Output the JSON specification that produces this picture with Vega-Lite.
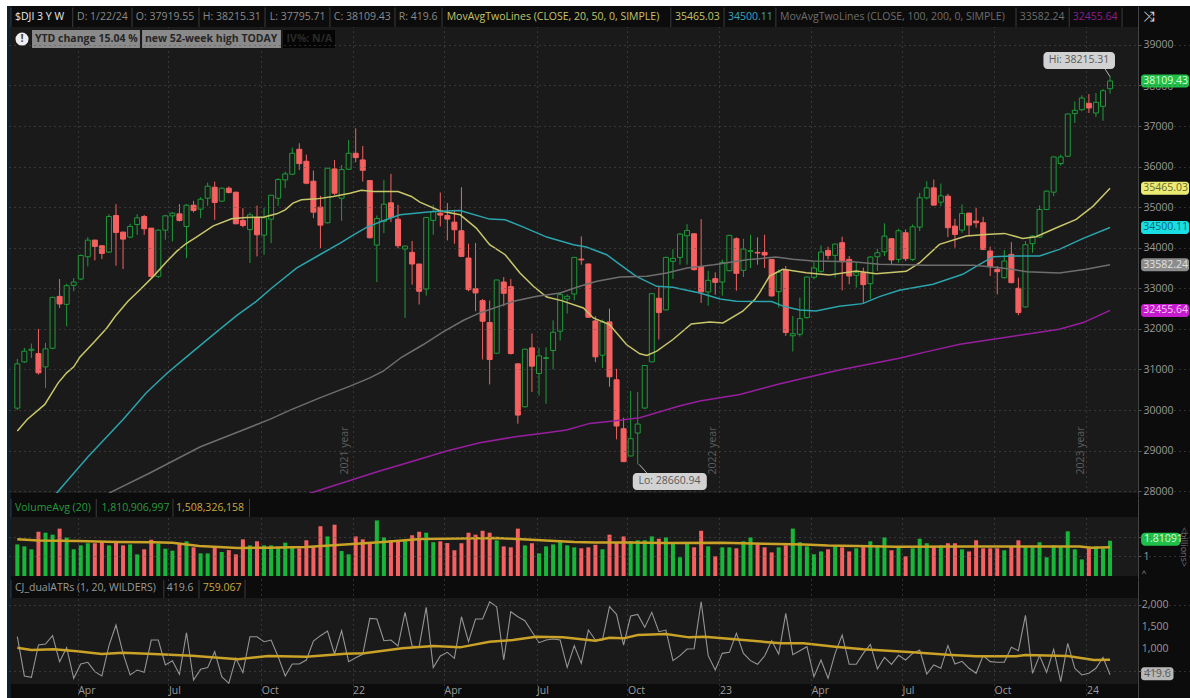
{"$schema":"https://vega.github.io/schema/vega-lite/v6.json","background":"#ffffff","padding":{"left":7,"top":6,"right":0,"bottom":0},"spacing":0,
"config":{"font":"Open Sans","view":{"stroke":null},"concat":{"spacing":0},"text":{"font":"Open Sans"}},
"datasets":{
"bars":[
{"w":0,"o":30046,"h":31260,"l":29997,"c":31137,"d":"u","v":1.62,"a":1278},
{"w":1,"o":31186,"h":31531,"l":31160,"c":31449,"d":"u","v":1.52,"a":393},
{"w":2,"o":31470,"h":31637,"l":31285,"c":31500,"d":"u","v":1.37,"a":362},
{"w":3,"o":31390,"h":31998,"l":30875,"c":30916,"d":"d","v":2.27,"a":1090},
{"w":4,"o":31063,"h":31654,"l":30546,"c":31506,"d":"u","v":2.22,"a":1112},
{"w":5,"o":31522,"h":32790,"l":31500,"c":32777,"d":"u","v":2.12,"a":1300},
{"w":6,"o":32800,"h":33228,"l":32515,"c":32613,"d":"d","v":2.43,"a":715},
{"w":7,"o":32605,"h":33113,"l":32064,"c":33064,"d":"u","v":1.97,"a":1030},
{"w":8,"o":33072,"h":33253,"l":32925,"c":33154,"d":"u","v":1.37,"a":340},
{"w":9,"o":33228,"h":33830,"l":33200,"c":33810,"d":"u","v":1.57,"a":662},
{"w":10,"o":33777,"h":34261,"l":33540,"c":34187,"d":"u","v":1.68,"a":700},
{"w":11,"o":34187,"h":34200,"l":33687,"c":34032,"d":"d","v":1.68,"a":490},
{"w":12,"o":34048,"h":34060,"l":33720,"c":33859,"d":"d","v":1.74,"a":392},
{"w":13,"o":33892,"h":34827,"l":33868,"c":34770,"d":"u","v":1.57,"a":1075},
{"w":14,"o":34794,"h":35073,"l":33556,"c":34376,"d":"d","v":1.79,"a":1540},
{"w":15,"o":34384,"h":34400,"l":33474,"c":34212,"d":"d","v":1.57,"a":902},
{"w":16,"o":34261,"h":34590,"l":34236,"c":34524,"d":"u","v":1.62,"a":415},
{"w":17,"o":34573,"h":34827,"l":34318,"c":34737,"d":"u","v":1.11,"a":527},
{"w":18,"o":34770,"h":34810,"l":34318,"c":34466,"d":"d","v":1.37,"a":475},
{"w":19,"o":34483,"h":34483,"l":33260,"c":33294,"d":"d","v":1.86,"a":1202},
{"w":20,"o":33294,"h":34450,"l":33250,"c":34433,"d":"u","v":1.66,"a":1202},
{"w":21,"o":34433,"h":34810,"l":34196,"c":34786,"d":"u","v":1.40,"a":640},
{"w":22,"o":34786,"h":34876,"l":34155,"c":34852,"d":"u","v":1.30,"a":737},
{"w":23,"o":34835,"h":35073,"l":34646,"c":34671,"d":"d","v":1.66,"a":430},
{"w":24,"o":34524,"h":35073,"l":33745,"c":35048,"d":"u","v":1.78,"a":1367},
{"w":25,"o":35048,"h":35155,"l":34868,"c":34917,"d":"d","v":1.47,"a":302},
{"w":26,"o":34950,"h":35245,"l":34729,"c":35196,"d":"u","v":1.16,"a":542},
{"w":27,"o":35220,"h":35606,"l":35032,"c":35516,"d":"u","v":1.16,"a":580},
{"w":28,"o":35491,"h":35630,"l":34688,"c":35114,"d":"d","v":1.50,"a":940},
{"w":29,"o":35147,"h":35480,"l":35130,"c":35467,"d":"u","v":1.23,"a":377},
{"w":30,"o":35467,"h":35510,"l":35340,"c":35360,"d":"d","v":1.33,"a":227},
{"w":31,"o":35368,"h":35380,"l":34580,"c":34590,"d":"d","v":1.11,"a":790},
{"w":32,"o":34671,"h":34975,"l":34500,"c":34548,"d":"d","v":1.88,"a":467},
{"w":33,"o":34450,"h":34868,"l":33622,"c":34811,"d":"u","v":1.57,"a":1277},
{"w":34,"o":34737,"h":35040,"l":33786,"c":34319,"d":"d","v":1.78,"a":1277},
{"w":35,"o":34310,"h":34975,"l":33827,"c":34737,"d":"u","v":1.57,"a":1165},
{"w":36,"o":34704,"h":35300,"l":34114,"c":35294,"d":"u","v":1.57,"a":1202},
{"w":37,"o":35220,"h":35713,"l":35032,"c":35680,"d":"u","v":1.50,"a":827},
{"w":38,"o":35672,"h":35877,"l":35467,"c":35819,"d":"u","v":1.71,"a":392},
{"w":39,"o":35811,"h":36467,"l":35795,"c":36328,"d":"u","v":1.50,"a":662},
{"w":40,"o":36426,"h":36574,"l":35918,"c":36073,"d":"d","v":1.42,"a":662},
{"w":41,"o":36131,"h":36295,"l":35565,"c":35590,"d":"d","v":1.83,"a":752},
{"w":42,"o":35639,"h":35901,"l":34729,"c":34876,"d":"d","v":1.50,"a":1180},
{"w":43,"o":35000,"h":35278,"l":33990,"c":34556,"d":"d","v":2.55,"a":1300},
{"w":44,"o":34614,"h":35970,"l":34600,"c":35959,"d":"u","v":2.03,"a":1405},
{"w":45,"o":35942,"h":36164,"l":35303,"c":35344,"d":"d","v":2.63,"a":887},
{"w":46,"o":35220,"h":36041,"l":34663,"c":35926,"d":"u","v":1.28,"a":1412},
{"w":47,"o":35934,"h":36656,"l":35918,"c":36328,"d":"u","v":1.11,"a":715},
{"w":48,"o":36328,"h":36943,"l":36106,"c":36221,"d":"d","v":2.03,"a":805},
{"w":49,"o":36164,"h":36508,"l":35630,"c":35909,"d":"d","v":1.88,"a":880},
{"w":50,"o":35655,"h":35670,"l":34230,"c":34245,"d":"d","v":1.68,"a":1690},
{"w":51,"o":34064,"h":34794,"l":33154,"c":34720,"d":"u","v":2.85,"a":1675},
{"w":52,"o":34648,"h":35673,"l":34360,"c":35074,"d":"u","v":1.98,"a":1187},
{"w":53,"o":35107,"h":35820,"l":34631,"c":34746,"d":"d","v":1.83,"a":1202},
{"w":54,"o":34705,"h":35058,"l":33984,"c":34049,"d":"d","v":1.83,"a":1067},
{"w":55,"o":33967,"h":34050,"l":32270,"c":34041,"d":"u","v":1.83,"a":1825},
{"w":56,"o":33885,"h":34164,"l":33090,"c":33598,"d":"d","v":2.09,"a":1067},
{"w":57,"o":33598,"h":33600,"l":32600,"c":32926,"d":"d","v":2.27,"a":1052},
{"w":58,"o":32983,"h":34760,"l":32820,"c":34746,"d":"u","v":2.22,"a":1937},
{"w":59,"o":34672,"h":35058,"l":34320,"c":34886,"d":"u","v":1.73,"a":580},
{"w":60,"o":34853,"h":35361,"l":34525,"c":34804,"d":"d","v":1.78,"a":842},
{"w":61,"o":34795,"h":35100,"l":34180,"c":34705,"d":"d","v":1.69,"a":925},
{"w":62,"o":34631,"h":34935,"l":34100,"c":34443,"d":"d","v":1.32,"a":790},
{"w":63,"o":34418,"h":35492,"l":33770,"c":33787,"d":"d","v":1.68,"a":1727},
{"w":64,"o":33746,"h":34100,"l":32926,"c":32967,"d":"d","v":2.22,"a":1165},
{"w":65,"o":32991,"h":34115,"l":32434,"c":32885,"d":"d","v":2.12,"a":1675},
{"w":66,"o":32696,"h":32737,"l":31245,"c":32188,"d":"d","v":2.32,"a":1675},
{"w":67,"o":32155,"h":32700,"l":30630,"c":31245,"d":"d","v":2.22,"a":2065},
{"w":68,"o":31400,"h":33210,"l":31390,"c":33205,"d":"u","v":1.83,"a":1952},
{"w":69,"o":33155,"h":33278,"l":32557,"c":32877,"d":"d","v":1.52,"a":752},
{"w":70,"o":33040,"h":33230,"l":31367,"c":31392,"d":"d","v":1.47,"a":1840},
{"w":71,"o":31138,"h":31150,"l":29662,"c":29875,"d":"d","v":2.43,"a":1727},
{"w":72,"o":30080,"h":31510,"l":30060,"c":31499,"d":"u","v":1.57,"a":1637},
{"w":73,"o":31532,"h":31884,"l":30441,"c":31080,"d":"d","v":1.68,"a":1390},
{"w":74,"o":30900,"h":31532,"l":30359,"c":31335,"d":"u","v":1.16,"a":1142},
{"w":75,"o":31270,"h":31548,"l":30154,"c":31290,"d":"u","v":1.52,"a":1202},
{"w":76,"o":31466,"h":32212,"l":31000,"c":31917,"d":"u","v":1.62,"a":1225},
{"w":77,"o":31942,"h":32900,"l":31712,"c":32844,"d":"u","v":1.83,"a":1202},
{"w":78,"o":32737,"h":32844,"l":32376,"c":32803,"d":"u","v":1.57,"a":587},
{"w":79,"o":32860,"h":33770,"l":32704,"c":33762,"d":"u","v":1.47,"a":1075},
{"w":80,"o":33720,"h":34280,"l":33580,"c":33700,"d":"d","v":1.42,"a":677},
{"w":81,"o":33598,"h":33610,"l":32270,"c":32286,"d":"d","v":1.47,"a":1427},
{"w":82,"o":32196,"h":32310,"l":31180,"c":31310,"d":"d","v":1.60,"a":1202},
{"w":83,"o":31351,"h":32230,"l":31040,"c":32171,"d":"u","v":1.37,"a":1202},
{"w":84,"o":32171,"h":32500,"l":30572,"c":30818,"d":"d","v":2.12,"a":1952},
{"w":85,"o":30745,"h":31015,"l":29277,"c":29605,"d":"d","v":1.74,"a":1780},
{"w":86,"o":29539,"h":29810,"l":28720,"c":28727,"d":"d","v":2.03,"a":1090},
{"w":87,"o":28867,"h":30466,"l":28860,"c":29293,"d":"u","v":1.78,"a":1742},
{"w":88,"o":29433,"h":30441,"l":28661,"c":29654,"d":"u","v":1.83,"a":1780},
{"w":89,"o":30048,"h":31100,"l":30030,"c":31097,"d":"u","v":1.83,"a":1487},
{"w":90,"o":31187,"h":32880,"l":31180,"c":32868,"d":"u","v":2.03,"a":1825},
{"w":91,"o":32754,"h":33032,"l":31737,"c":32401,"d":"d","v":1.91,"a":1390},
{"w":92,"o":32467,"h":33775,"l":32460,"c":33762,"d":"u","v":1.98,"a":1427},
{"w":93,"o":33664,"h":33967,"l":33229,"c":33738,"d":"u","v":1.73,"a":737},
{"w":94,"o":33762,"h":34360,"l":33582,"c":34336,"d":"u","v":0.96,"a":850},
{"w":95,"o":34295,"h":34582,"l":33582,"c":34426,"d":"u","v":1.73,"a":1000},
{"w":96,"o":34344,"h":34350,"l":33440,"c":33459,"d":"d","v":1.47,"a":1007},
{"w":97,"o":33533,"h":34705,"l":32640,"c":32910,"d":"d","v":2.32,"a":2065},
{"w":98,"o":32910,"h":33434,"l":32573,"c":33196,"d":"u","v":1.52,"a":850},
{"w":99,"o":33237,"h":33393,"l":32844,"c":33147,"d":"d","v":1.01,"a":527},
{"w":100,"o":33155,"h":33705,"l":32819,"c":33639,"d":"u","v":1.47,"a":902},
{"w":101,"o":33434,"h":34320,"l":33418,"c":34303,"d":"u","v":1.47,"a":925},
{"w":102,"o":34221,"h":34254,"l":32942,"c":33369,"d":"d","v":1.42,"a":1352},
{"w":103,"o":33442,"h":34221,"l":33278,"c":33967,"d":"u","v":1.78,"a":902},
{"w":104,"o":33910,"h":34320,"l":33500,"c":33926,"d":"u","v":1.98,"a":737},
{"w":105,"o":33885,"h":34254,"l":33582,"c":33870,"d":"d","v":1.62,"a":655},
{"w":106,"o":33885,"h":34320,"l":33500,"c":33820,"d":"d","v":1.47,"a":842},
{"w":107,"o":33713,"h":33720,"l":32800,"c":32811,"d":"d","v":1.21,"a":1187},
{"w":108,"o":32918,"h":33467,"l":32524,"c":33400,"d":"u","v":1.47,"a":887},
{"w":109,"o":33450,"h":33550,"l":31827,"c":31909,"d":"d","v":1.57,"a":1802},
{"w":110,"o":31830,"h":32319,"l":31442,"c":31880,"d":"u","v":2.43,"a":872},
{"w":111,"o":31868,"h":32770,"l":31810,"c":32253,"d":"u","v":1.73,"a":962},
{"w":112,"o":32278,"h":33290,"l":32253,"c":33278,"d":"u","v":1.52,"a":1052},
{"w":113,"o":33270,"h":33647,"l":33220,"c":33500,"d":"u","v":1.11,"a":377},
{"w":114,"o":33418,"h":34057,"l":33385,"c":33893,"d":"u","v":1.26,"a":752},
{"w":115,"o":33934,"h":34025,"l":33713,"c":33811,"d":"d","v":1.37,"a":340},
{"w":116,"o":33811,"h":34100,"l":33262,"c":34090,"d":"u","v":1.57,"a":902},
{"w":117,"o":34123,"h":34270,"l":32950,"c":33656,"d":"d","v":1.47,"a":1315},
{"w":118,"o":33713,"h":33795,"l":33100,"c":33303,"d":"d","v":1.26,"a":655},
{"w":119,"o":33320,"h":33631,"l":33016,"c":33385,"d":"u","v":1.42,"a":655},
{"w":120,"o":33385,"h":33508,"l":32630,"c":33090,"d":"d","v":1.52,"a":902},
{"w":121,"o":33115,"h":33795,"l":32730,"c":33770,"d":"u","v":1.78,"a":1105},
{"w":122,"o":33778,"h":33975,"l":33426,"c":33877,"d":"u","v":1.57,"a":550},
{"w":123,"o":33900,"h":34600,"l":33795,"c":34287,"d":"u","v":1.98,"a":812},
{"w":124,"o":34221,"h":34240,"l":33600,"c":33697,"d":"d","v":1.32,"a":655},
{"w":125,"o":33713,"h":34467,"l":33631,"c":34418,"d":"u","v":1.47,"a":857},
{"w":126,"o":34369,"h":34451,"l":33672,"c":33729,"d":"d","v":1.01,"a":752},
{"w":127,"o":33713,"h":34574,"l":33672,"c":34516,"d":"u","v":1.42,"a":902},
{"w":128,"o":34508,"h":35353,"l":34410,"c":35230,"d":"u","v":1.91,"a":977},
{"w":129,"o":35230,"h":35640,"l":35189,"c":35476,"d":"u","v":1.68,"a":437},
{"w":130,"o":35476,"h":35681,"l":35040,"c":35050,"d":"d","v":1.52,"a":640},
{"w":131,"o":35123,"h":35583,"l":35025,"c":35279,"d":"u","v":1.57,"a":565},
{"w":132,"o":35271,"h":35328,"l":34262,"c":34492,"d":"d","v":1.68,"a":1075},
{"w":133,"o":34533,"h":34713,"l":34000,"c":34328,"d":"d","v":1.68,"a":662},
{"w":134,"o":34435,"h":35066,"l":34369,"c":34845,"d":"u","v":1.37,"a":722},
{"w":135,"o":34853,"h":34861,"l":34287,"c":34558,"d":"d","v":1.26,"a":565},
{"w":136,"o":34656,"h":34984,"l":34492,"c":34615,"d":"d","v":1.83,"a":452},
{"w":137,"o":34615,"h":34763,"l":33943,"c":33959,"d":"d","v":1.42,"a":850},
{"w":138,"o":33918,"h":34025,"l":33303,"c":33533,"d":"d","v":1.42,"a":715},
{"w":139,"o":33467,"h":33549,"l":32852,"c":33410,"d":"d","v":1.42,"a":700},
{"w":140,"o":33262,"h":33943,"l":33237,"c":33672,"d":"u","v":1.32,"a":700},
{"w":141,"o":33836,"h":34139,"l":33123,"c":33139,"d":"d","v":1.52,"a":1037},
{"w":142,"o":33000,"h":33262,"l":32335,"c":32401,"d":"d","v":1.83,"a":962},
{"w":143,"o":32540,"h":34164,"l":32524,"c":34074,"d":"u","v":1.52,"a":1757},
{"w":144,"o":34098,"h":34303,"l":33877,"c":34287,"d":"u","v":1.47,"a":452},
{"w":145,"o":34262,"h":35041,"l":34246,"c":34943,"d":"u","v":1.73,"a":850},
{"w":146,"o":34943,"h":35410,"l":34926,"c":35394,"d":"u","v":0.96,"a":475},
{"w":147,"o":35369,"h":36245,"l":35271,"c":36238,"d":"u","v":1.57,"a":992},
{"w":148,"o":36075,"h":36296,"l":36025,"c":36238,"d":"u","v":1.52,"a":265},
{"w":149,"o":36255,"h":37310,"l":36240,"c":37296,"d":"u","v":2.29,"a":1127},
{"w":150,"o":37305,"h":37608,"l":37075,"c":37387,"d":"u","v":1.37,"a":565},
{"w":151,"o":37403,"h":37756,"l":37362,"c":37690,"d":"u","v":0.85,"a":415},
{"w":152,"o":37559,"h":37788,"l":37321,"c":37444,"d":"d","v":1.42,"a":452},
{"w":153,"o":37321,"h":37813,"l":37223,"c":37583,"d":"u","v":1.52,"a":565},
{"w":154,"o":37485,"h":37911,"l":37130,"c":37870,"d":"u","v":1.42,"a":812},
{"w":155,"o":37919.55,"h":38215.31,"l":37795.71,"c":38109.43,"d":"u","v":1.81,"a":419.6}
],
"ma":[
{"w":0,"p":29480,"s":"20"},{"w":1.4,"p":29768,"s":"20"},{"w":3.9,"p":30137,"s":"20"},{"w":5.8,"p":30670,"s":"20"},{"w":7,"p":30916,"s":"20"},{"w":8,"p":31063,"s":"20"},{"w":8.9,"p":31309,"s":"20"},{"w":11,"p":31695,"s":"20"},{"w":12.7,"p":32023,"s":"20"},{"w":13.9,"p":32310,"s":"20"},{"w":15.7,"p":32679,"s":"20"},{"w":17.4,"p":32966,"s":"20"},{"w":19.3,"p":33294,"s":"20"},{"w":21.2,"p":33663,"s":"20"},{"w":22.6,"p":33909,"s":"20"},{"w":23.9,"p":34097,"s":"20"},{"w":25.4,"p":34261,"s":"20"},{"w":27.8,"p":34540,"s":"20"},{"w":30.4,"p":34712,"s":"20"},{"w":32.5,"p":34745,"s":"20"},{"w":34.9,"p":34753,"s":"20"},{"w":36.8,"p":34835,"s":"20"},{"w":38,"p":34933,"s":"20"},{"w":39.1,"p":35098,"s":"20"},{"w":40.3,"p":35180,"s":"20"},{"w":42.5,"p":35204,"s":"20"},{"w":44.8,"p":35262,"s":"20"},{"w":47.2,"p":35344,"s":"20"},{"w":48.8,"p":35417,"s":"20"},{"w":50.5,"p":35385,"s":"20"},{"w":54,"p":35386,"s":"20"},{"w":55.9,"p":35263,"s":"20"},{"w":57.1,"p":35123,"s":"20"},{"w":59.9,"p":34910,"s":"20"},{"w":62.8,"p":34812,"s":"20"},{"w":65.1,"p":34484,"s":"20"},{"w":67,"p":34074,"s":"20"},{"w":69.2,"p":33828,"s":"20"},{"w":71.3,"p":33377,"s":"20"},{"w":73.2,"p":33049,"s":"20"},{"w":75.1,"p":32786,"s":"20"},{"w":77.2,"p":32696,"s":"20"},{"w":80.3,"p":32516,"s":"20"},{"w":81.7,"p":32270,"s":"20"},{"w":84,"p":32106,"s":"20"},{"w":86.4,"p":31614,"s":"20"},{"w":88.3,"p":31384,"s":"20"},{"w":89.3,"p":31343,"s":"20"},{"w":90.7,"p":31450,"s":"20"},{"w":93,"p":31737,"s":"20"},{"w":95.6,"p":32122,"s":"20"},{"w":98.2,"p":32171,"s":"20"},{"w":100.1,"p":32147,"s":"20"},{"w":102.9,"p":32434,"s":"20"},{"w":104.6,"p":32721,"s":"20"},{"w":105.3,"p":32893,"s":"20"},{"w":106.7,"p":33303,"s":"20"},{"w":108.6,"p":33467,"s":"20"},{"w":111.9,"p":33385,"s":"20"},{"w":115.2,"p":33328,"s":"20"},{"w":119,"p":33426,"s":"20"},{"w":121.8,"p":33360,"s":"20"},{"w":126.1,"p":33418,"s":"20"},{"w":128,"p":33631,"s":"20"},{"w":130.8,"p":34082,"s":"20"},{"w":134.6,"p":34287,"s":"20"},{"w":137.4,"p":34328,"s":"20"},{"w":140,"p":34353,"s":"20"},{"w":142.6,"p":34230,"s":"20"},{"w":144.5,"p":34270,"s":"20"},{"w":147.4,"p":34492,"s":"20"},{"w":150.2,"p":34697,"s":"20"},{"w":152.6,"p":35025,"s":"20"},{"w":155,"p":35465,"s":"20"},
{"w":5.3,"p":27900,"s":"50"},{"w":10,"p":28840,"s":"50"},{"w":15,"p":29768,"s":"50"},{"w":18.3,"p":30424,"s":"50"},{"w":21.2,"p":30899,"s":"50"},{"w":24,"p":31309,"s":"50"},{"w":27.8,"p":31859,"s":"50"},{"w":31.1,"p":32326,"s":"50"},{"w":33.9,"p":32679,"s":"50"},{"w":36.1,"p":33007,"s":"50"},{"w":39.6,"p":33499,"s":"50"},{"w":42.9,"p":33827,"s":"50"},{"w":45.8,"p":34114,"s":"50"},{"w":47.7,"p":34319,"s":"50"},{"w":49.6,"p":34507,"s":"50"},{"w":52,"p":34671,"s":"50"},{"w":54.3,"p":34812,"s":"50"},{"w":59,"p":34894,"s":"50"},{"w":62.8,"p":34918,"s":"50"},{"w":67,"p":34705,"s":"50"},{"w":69.2,"p":34689,"s":"50"},{"w":71.8,"p":34508,"s":"50"},{"w":75.1,"p":34262,"s":"50"},{"w":78.9,"p":34074,"s":"50"},{"w":80.7,"p":34016,"s":"50"},{"w":83.6,"p":33828,"s":"50"},{"w":85.5,"p":33582,"s":"50"},{"w":87.8,"p":33295,"s":"50"},{"w":90.7,"p":33049,"s":"50"},{"w":93,"p":33024,"s":"50"},{"w":96.8,"p":32885,"s":"50"},{"w":99.7,"p":32737,"s":"50"},{"w":102,"p":32680,"s":"50"},{"w":107,"p":32672,"s":"50"},{"w":108.8,"p":32549,"s":"50"},{"w":111,"p":32467,"s":"50"},{"w":113.3,"p":32442,"s":"50"},{"w":116.6,"p":32557,"s":"50"},{"w":119.9,"p":32622,"s":"50"},{"w":122.3,"p":32795,"s":"50"},{"w":125.1,"p":32950,"s":"50"},{"w":129.9,"p":33098,"s":"50"},{"w":134.1,"p":33344,"s":"50"},{"w":136.5,"p":33590,"s":"50"},{"w":138.4,"p":33779,"s":"50"},{"w":141.2,"p":33795,"s":"50"},{"w":145,"p":33795,"s":"50"},{"w":147.8,"p":33959,"s":"50"},{"w":151.2,"p":34230,"s":"50"},{"w":155,"p":34500,"s":"50"},
{"w":13,"p":27950,"s":"100"},{"w":18.8,"p":28447,"s":"100"},{"w":25.9,"p":29088,"s":"100"},{"w":35.8,"p":29768,"s":"100"},{"w":38.7,"p":29997,"s":"100"},{"w":42.9,"p":30300,"s":"100"},{"w":47.2,"p":30588,"s":"100"},{"w":50,"p":30793,"s":"100"},{"w":51.9,"p":30957,"s":"100"},{"w":54.5,"p":31300,"s":"100"},{"w":57.6,"p":31614,"s":"100"},{"w":60.4,"p":31925,"s":"100"},{"w":63.3,"p":32212,"s":"100"},{"w":65.6,"p":32393,"s":"100"},{"w":70.4,"p":32680,"s":"100"},{"w":73.7,"p":32803,"s":"100"},{"w":77,"p":32885,"s":"100"},{"w":79.8,"p":33049,"s":"100"},{"w":82.2,"p":33172,"s":"100"},{"w":85.5,"p":33278,"s":"100"},{"w":89.3,"p":33295,"s":"100"},{"w":92.1,"p":33377,"s":"100"},{"w":95,"p":33500,"s":"100"},{"w":98.8,"p":33582,"s":"100"},{"w":103.5,"p":33705,"s":"100"},{"w":107.6,"p":33770,"s":"100"},{"w":110,"p":33713,"s":"100"},{"w":112.9,"p":33672,"s":"100"},{"w":118.5,"p":33656,"s":"100"},{"w":122.3,"p":33590,"s":"100"},{"w":128.9,"p":33565,"s":"100"},{"w":135.6,"p":33565,"s":"100"},{"w":139.4,"p":33508,"s":"100"},{"w":143.2,"p":33410,"s":"100"},{"w":147.8,"p":33377,"s":"100"},{"w":151.6,"p":33467,"s":"100"},{"w":155,"p":33582,"s":"100"},
{"w":41.5,"p":27950,"s":"200"},{"w":46.5,"p":28225,"s":"200"},{"w":51.4,"p":28498,"s":"200"},{"w":56.2,"p":28744,"s":"200"},{"w":60.9,"p":28990,"s":"200"},{"w":65.6,"p":29195,"s":"200"},{"w":70.4,"p":29334,"s":"200"},{"w":75.1,"p":29441,"s":"200"},{"w":77.9,"p":29506,"s":"200"},{"w":81.2,"p":29670,"s":"200"},{"w":84.5,"p":29728,"s":"200"},{"w":88.3,"p":29810,"s":"200"},{"w":93.9,"p":30097,"s":"200"},{"w":96.8,"p":30220,"s":"200"},{"w":102.5,"p":30384,"s":"200"},{"w":108.2,"p":30646,"s":"200"},{"w":112,"p":30800,"s":"200"},{"w":116.6,"p":30986,"s":"200"},{"w":125.1,"p":31278,"s":"200"},{"w":128.9,"p":31433,"s":"200"},{"w":133.7,"p":31622,"s":"200"},{"w":138.4,"p":31745,"s":"200"},{"w":143.1,"p":31868,"s":"200"},{"w":147.8,"p":31991,"s":"200"},{"w":151.2,"p":32155,"s":"200"},{"w":155,"p":32455.64,"s":"200"}
],
"volavg":[
{"w":0,"v":1.89},{"w":3,"v":1.82},{"w":8.5,"v":1.79},{"w":14,"v":1.74},{"w":19.3,"v":1.73},{"w":22,"v":1.71},{"w":25.8,"v":1.54},{"w":31.3,"v":1.44},{"w":35.6,"v":1.45},{"w":41,"v":1.49},{"w":46.5,"v":1.61},{"w":51.9,"v":1.74},{"w":57.3,"v":1.9},{"w":62.8,"v":1.92},{"w":68,"v":1.95},{"w":73.6,"v":1.85},{"w":79,"v":1.74},{"w":82,"v":1.72},{"w":86.6,"v":1.72},{"w":92,"v":1.69},{"w":100,"v":1.71},{"w":105.8,"v":1.66},{"w":111.6,"v":1.61},{"w":115,"v":1.56},{"w":124.6,"v":1.5},{"w":135.4,"v":1.51},{"w":146.3,"v":1.51},{"w":150.7,"v":1.51},{"w":152.4,"v":1.45},{"w":155,"v":1.47}
],
"atravg":[
{"w":0,"a":1030},{"w":2,"a":977},{"w":5.2,"a":992},{"w":8.5,"a":947},{"w":12,"a":887},{"w":15,"a":917},{"w":19.3,"a":887},{"w":24.8,"a":850},{"w":31.3,"a":767},{"w":35.6,"a":842},{"w":41,"a":827},{"w":46.5,"a":895},{"w":49.2,"a":902},{"w":54.6,"a":1015},{"w":59,"a":1067},{"w":62.8,"a":1037},{"w":67,"a":1165},{"w":70.3,"a":1202},{"w":73.6,"a":1277},{"w":77.4,"a":1262},{"w":82,"a":1187},{"w":84,"a":1255},{"w":86,"a":1240},{"w":88,"a":1315},{"w":92,"a":1337},{"w":95.3,"a":1262},{"w":97.5,"a":1277},{"w":103,"a":1202},{"w":108.3,"a":1127},{"w":111.5,"a":1127},{"w":116,"a":1052},{"w":120,"a":992},{"w":127,"a":925},{"w":132.5,"a":865},{"w":136,"a":835},{"w":141.6,"a":835},{"w":143,"a":865},{"w":149,"a":842},{"w":152.7,"a":752},{"w":155,"a":759}
],
"years":[{"w":47.55,"t":"2021 year","lw":46.5},{"w":99.59,"t":"2022 year","lw":98.7},{"w":151.65,"t":"2023 year","lw":150.9}],
"head1":[
{"w":-0.33,"t":"$DJI 3 Y W","k":"sym"},{"w":8.47,"t":"D: 1/22/24","k":"lab"},{"w":16.8,"t":"O: 37919.55","k":"lab"},{"w":26.3,"t":"H: 38215.31","k":"lab"},{"w":35.8,"t":"L: 37795.71","k":"lab"},{"w":44.9,"t":"C: 38109.43","k":"lab"},{"w":54.1,"t":"R: 419.6","k":"lab"},{"w":60.9,"t":"MovAvgTwoLines (CLOSE, 20, 50, 0, SIMPLE)","k":"yel"},{"w":93.3,"t":"35465.03","k":"yel"},{"w":100.8,"t":"34500.11","k":"tea"},{"w":108.2,"t":"MovAvgTwoLines (CLOSE, 100, 200, 0, SIMPLE)","k":"gry"},{"w":142.2,"t":"33582.24","k":"gry"},{"w":149.7,"t":"32455.64","k":"pur"}],
"div1":[{"w":-0.9},{"w":7.86},{"w":16.27},{"w":25.77},{"w":35.14},{"w":44.35},{"w":53.57},{"w":60.24},{"w":92.7},{"w":100.25},{"w":107.6},{"w":141.66},{"w":149.2},{"w":156.7}],
"badges":[{"a":2.09,"b":17.4,"tw":2.5,"t":"YTD change 15.04 %","k":"g"},{"a":17.7,"b":37.4,"tw":18.1,"t":"new 52-week high TODAY","k":"g"},{"a":37.7,"b":45.06,"tw":38.2,"t":"IV%: N/A","k":"b"}],
"tags":[{"p":38109.43,"t":"38109.43","k":"g"},{"p":35465.03,"t":"35465.03","k":"y"},{"p":34500.11,"t":"34500.11","k":"c"},{"p":33582.24,"t":"33582.24","k":"s"},{"p":32455.64,"t":"32455.64","k":"m"}],
"callouts":[{"a":145.55,"b":155.7,"p":38615,"w":150.6,"t":"Hi: 38215.31"},{"a":87.3,"b":97.8,"p":28238,"w":92.5,"t":"Lo: 28660.94"}],
"pointers":[{"w":154.3,"p":38405,"g":"hi"},{"w":155,"p":38215,"g":"hi"},{"w":88.2,"p":28660,"g":"lo"},{"w":89.3,"p":28447,"g":"lo"}],
"head2":[{"w":-0.33,"t":"VolumeAvg (20)","k":"grn"},{"w":11.93,"t":"1,810,906,997","k":"grn"},{"w":22.5,"t":"1,508,326,158","k":"gld"}],
"div2":[{"w":-0.9},{"w":11.2},{"w":22.08},{"w":32.94}],
"head3":[{"w":-0.33,"t":"CJ_dualATRs (1, 20, WILDERS)","k":"lab"},{"w":21.2,"t":"419.6","k":"lab"},{"w":26.3,"t":"759.067","k":"gld"}],
"div3":[{"w":-0.9},{"w":20.78},{"w":25.77},{"w":32.3}],
"atrticks":[{"a":2000,"t":"2,000"},{"a":1500,"t":"1,500"},{"a":1000,"t":"1,000"}]
},
"vconcat":[
{"width":1183,"height":492,"view":{"fill":"#1a1a1a","stroke":null},
"resolve":{"scale":{"color":"independent","fill":"independent","stroke":"independent"}},
"encoding":{"x":{"type":"quantitative","title":null,"scale":{"domain":[-1.461,166.34],"nice":false,"zero":false,"padding":0},"axis":{"values":[8.57,21.43,34.62,47.55,60.53,73.65,86.55,99.59,112.6,125.5,138.55,151.65],"labels":false,"ticks":false,"domain":false,"grid":true,"gridColor":"#555555","gridDash":[1,4]}}},
"layer":[
{"data":{"name":"years"},"mark":{"type":"rule","color":"#6a6a6a","strokeDash":[6,4],"strokeWidth":1},"encoding":{"x":{"field":"w"},"y":{"field":"none","type":"quantitative","title":null,"scale":{"domain":[27831,39958],"nice":false,"zero":false,"padding":0},"axis":{"orient":"right","offset":-52,"zindex":1,"values":[28000,29000,30000,31000,32000,33000,34000,35000,36000,37000,38000,39000],"title":null,"labelColor":"#9a9a9a","labelFont":"Open Sans","labelFontSize":10.5,"labelPadding":2,"tickSize":3,"tickColor":"#555555","domainColor":"#444444","gridColor":"#555555","grid":true,"gridDash":[1,4],"labelExpr":"datum.value==38000?'':format(datum.value,'d')","labelOverlap":false,"labelBound":false,"labelFlush":false}}}},
{"data":{"name":"years"},"mark":{"type":"text","angle":270,"color":"#5e5e5e","fontSize":10.5,"align":"center","baseline":"middle"},"encoding":{"x":{"field":"lw"},"y":{"datum":29000,"type":"quantitative"},"text":{"field":"t"}}},
{"data":{"name":"bars"},"mark":{"type":"rule","strokeWidth":1},"encoding":{"x":{"field":"w"},"y":{"field":"l","type":"quantitative"},"y2":{"field":"h"},"color":{"field":"d","type":"nominal","legend":null,"scale":{"domain":["u","d"],"range":["#1f9a3a","#f56060"]}}}},
{"data":{"name":"bars"},"mark":{"type":"bar","size":5,"strokeWidth":1},"encoding":{"x":{"field":"w"},"y":{"field":"o","type":"quantitative"},"y2":{"field":"c"},"fill":{"field":"d","type":"nominal","legend":null,"scale":{"domain":["u","d"],"range":["#1a1a1a","#f56060"]}},"stroke":{"field":"d","type":"nominal","legend":null,"scale":{"domain":["u","d"],"range":["#1f9a3a","#f56060"]}}}},
{"data":{"name":"ma"},"mark":{"type":"line","strokeWidth":1.5,"clip":true},"encoding":{"x":{"field":"w"},"y":{"field":"p","type":"quantitative"},"order":{"field":"w"},"detail":{"field":"s"},"color":{"field":"s","type":"nominal","legend":null,"scale":{"domain":["20","50","100","200"],"range":["#c9c66a","#2aa5ad","#6e6e6e","#981ea0"]}}}},
{"data":{"values":[{}]},"mark":{"type":"rect","color":"#0c0c0c"},"encoding":{"x":{"datum":158.96},"x2":{"datum":166.34},"y":{"datum":27831,"type":"quantitative"},"y2":{"datum":39958}}},
{"data":{"values":[{}]},"mark":{"type":"rect","color":"#10202c"},"encoding":{"x":{"datum":-1.461},"x2":{"datum":-0.9},"y":{"datum":27831,"type":"quantitative"},"y2":{"datum":39958}}},
{"data":{"values":[{}]},"mark":{"type":"rect","color":"#0c0c0c"},"encoding":{"x":{"datum":-0.9},"x2":{"datum":158.96},"y":{"datum":39440,"type":"quantitative"},"y2":{"datum":39958}}},
{"data":{"values":[{}]},"mark":{"type":"rect","color":"#0c0c0c"},"encoding":{"x":{"datum":-0.9},"x2":{"datum":158.96},"y":{"datum":27831,"type":"quantitative"},"y2":{"datum":27954}}},
{"data":{"name":"div1"},"mark":{"type":"rule","color":"#3c3c3c"},"encoding":{"x":{"field":"w"},"y":{"datum":39440,"type":"quantitative"},"y2":{"datum":39920}}},
{"data":{"name":"head1"},"mark":{"type":"text","align":"left","baseline":"middle","fontSize":10.5},"encoding":{"x":{"field":"w"},"y":{"datum":39687,"type":"quantitative"},"text":{"field":"t"},"color":{"field":"k","type":"nominal","legend":null,"scale":{"domain":["sym","lab","yel","tea","gry","pur"],"range":["#e8e8e8","#8a8a8a","#c4c46c","#39a6bd","#6e6e6e","#8a1e8e"]}},"fontWeight":{"condition":{"test":"datum.k=='sym'","value":"bold"},"value":"normal"}}},
{"data":{"name":"badges"},"mark":{"type":"rect"},"encoding":{"x":{"field":"a"},"x2":{"field":"b"},"y":{"datum":38923,"type":"quantitative"},"y2":{"datum":39366},"fill":{"field":"k","type":"nominal","legend":null,"scale":{"domain":["g","b"],"range":["#8a8a8a","#050505"]}}}},
{"data":{"name":"badges"},"mark":{"type":"text","align":"left","baseline":"middle","fontSize":10.5,"fontWeight":"bold"},"encoding":{"x":{"field":"tw"},"y":{"datum":39144,"type":"quantitative"},"text":{"field":"t"},"color":{"field":"k","type":"nominal","legend":null,"scale":{"domain":["g","b"],"range":["#262626","#2a2a2a"]}}}},
{"data":{"values":[{"w":0.67}]},"mark":{"type":"point","filled":true,"color":"#eeeeee","size":170,"opacity":1},"encoding":{"x":{"field":"w"},"y":{"datum":39144,"type":"quantitative"}}},
{"data":{"values":[{"w":0.67,"t":"!"}]},"mark":{"type":"text","color":"#444444","fontSize":11,"fontWeight":"bold","align":"center","baseline":"middle"},"encoding":{"x":{"field":"w"},"y":{"datum":39144,"type":"quantitative"},"text":{"field":"t"}}},
{"data":{"values":[{"w":160.5,"t":"⤨"}]},"mark":{"type":"text","color":"#dddddd","font":"DejaVu Sans","fontSize":14,"align":"center","baseline":"middle"},"encoding":{"x":{"field":"w"},"y":{"datum":39687,"type":"quantitative"},"text":{"field":"t"}}},
{"data":{"values":[{"w":159.7,"t":"38000"}]},"mark":{"type":"text","color":"#9a9a9a","fontSize":10.5,"align":"left","baseline":"middle"},"encoding":{"x":{"field":"w"},"y":{"datum":37960,"type":"quantitative"},"text":{"field":"t"}}},
{"data":{"name":"tags"},"mark":{"type":"bar","height":13,"cornerRadius":3},"encoding":{"x":{"datum":159.4},"x2":{"datum":166.2},"y":{"field":"p","type":"quantitative"},"fill":{"field":"k","type":"nominal","legend":null,"scale":{"domain":["g","y","c","s","m"],"range":["#1fbf4a","#ecec74","#19dfe4","#8c8c8c","#c41bcc"]}}}},
{"data":{"name":"tags"},"mark":{"type":"text","align":"left","baseline":"middle","fontSize":10.5},"encoding":{"x":{"datum":159.7},"y":{"field":"p","type":"quantitative"},"text":{"field":"t"},"color":{"field":"k","type":"nominal","legend":null,"scale":{"domain":["g","y","c","s","m"],"range":["#d8ffd8","#6a6a30","#0a6a70","#e0e0e0","#f4c8f4"]}}}},
{"data":{"name":"pointers"},"mark":{"type":"line","color":"#b8b8b8","strokeWidth":1},"encoding":{"x":{"field":"w"},"y":{"field":"p","type":"quantitative"},"detail":{"field":"g"},"order":{"field":"w"}}},
{"data":{"name":"callouts"},"mark":{"type":"bar","height":17,"cornerRadius":4,"color":"#d2d2d2"},"encoding":{"x":{"field":"a"},"x2":{"field":"b"},"y":{"field":"p","type":"quantitative"}}},
{"data":{"name":"callouts"},"mark":{"type":"text","color":"#5a5a5a","fontSize":10.5,"align":"center","baseline":"middle"},"encoding":{"x":{"field":"w"},"y":{"field":"p","type":"quantitative"},"text":{"field":"t"}}}
]},
{"width":1183,"height":81,"view":{"fill":"#1a1a1a","stroke":null},
"resolve":{"scale":{"color":"independent"}},
"encoding":{"x":{"type":"quantitative","title":null,"scale":{"domain":[-1.461,166.34],"nice":false,"zero":false,"padding":0},"axis":{"values":[8.57,21.43,34.62,47.55,60.53,73.65,86.55,99.59,112.6,125.5,138.55,151.65],"labels":false,"ticks":false,"domain":false,"grid":true,"gridColor":"#555555","gridDash":[1,4]}}},
"layer":[
{"data":{"name":"bars"},"mark":{"type":"bar","size":4},"encoding":{"x":{"field":"w"},"y":{"field":"v","type":"quantitative","title":null,"scale":{"domain":[-0.154,4],"nice":false,"zero":false,"padding":0},"axis":{"orient":"right","offset":-52,"zindex":1,"values":[1,2],"title":null,"labelColor":"#9a9a9a","labelFontSize":10.5,"labelPadding":2,"tickSize":3,"tickColor":"#555555","domainColor":"#444444","gridColor":"#555555","grid":true,"gridDash":[1,4],"labelExpr":"datum.value==2?'':datum.label","labelOverlap":false,"labelBound":false}},"y2":{"datum":0},"color":{"field":"d","type":"nominal","legend":null,"scale":{"domain":["u","d"],"range":["#17b83a","#f56060"]}}}},
{"data":{"name":"volavg"},"mark":{"type":"line","color":"#c9a227","strokeWidth":2.5},"encoding":{"x":{"field":"w"},"y":{"field":"v","type":"quantitative"},"order":{"field":"w"}}},
{"data":{"values":[{}]},"mark":{"type":"rect","color":"#0c0c0c"},"encoding":{"x":{"datum":158.96},"x2":{"datum":166.34},"y":{"datum":-0.154,"type":"quantitative"},"y2":{"datum":4}}},
{"data":{"values":[{}]},"mark":{"type":"rect","color":"#10202c"},"encoding":{"x":{"datum":-1.461},"x2":{"datum":-0.9},"y":{"datum":-0.154,"type":"quantitative"},"y2":{"datum":4}}},
{"data":{"values":[{}]},"mark":{"type":"rect","color":"#0c0c0c"},"encoding":{"x":{"datum":-0.9},"x2":{"datum":158.96},"y":{"datum":3.026,"type":"quantitative"},"y2":{"datum":4}}},
{"data":{"values":[{}]},"mark":{"type":"rect","color":"#0c0c0c"},"encoding":{"x":{"datum":-0.9},"x2":{"datum":158.96},"y":{"datum":-0.154,"type":"quantitative"},"y2":{"datum":0}}},
{"data":{"name":"div2"},"mark":{"type":"rule","color":"#3c3c3c"},"encoding":{"x":{"field":"w"},"y":{"datum":3.026,"type":"quantitative"},"y2":{"datum":3.96}}},
{"data":{"name":"head2"},"mark":{"type":"text","align":"left","baseline":"middle","fontSize":10.5},"encoding":{"x":{"field":"w"},"y":{"datum":3.49,"type":"quantitative"},"text":{"field":"t"},"color":{"field":"k","type":"nominal","legend":null,"scale":{"domain":["grn","gld"],"range":["#2a9a3e","#c9a840"]}}}},
{"data":{"values":[{"t":"1.81091","v":1.88}]},"mark":{"type":"bar","height":13,"cornerRadius":4,"color":"#1fbf4a"},"encoding":{"x":{"datum":159.4},"x2":{"datum":165},"y":{"field":"v","type":"quantitative"}}},
{"data":{"values":[{"t":"1.81091","v":1.88}]},"mark":{"type":"text","color":"#d8ffd8","fontSize":10.5,"align":"left","baseline":"middle"},"encoding":{"x":{"datum":159.8},"y":{"field":"v","type":"quantitative"},"text":{"field":"t"}}},
{"data":{"values":[{"t":"^"}]},"mark":{"type":"text","color":"#9a9a9a","fontSize":8,"align":"left","baseline":"middle"},"encoding":{"x":{"datum":159.5},"y":{"datum":0.12,"type":"quantitative"},"text":{"field":"t"}}},
{"data":{"values":[{"t":"<billions>"}]},"mark":{"type":"text","color":"#6e6e6e","fontSize":9,"angle":90,"align":"center","baseline":"middle"},"encoding":{"x":{"datum":165.55},"y":{"datum":1.49,"type":"quantitative"},"text":{"field":"t"}}}
]},
{"width":1183,"height":119,"view":{"fill":"#1a1a1a","stroke":null},
"encoding":{"x":{"type":"quantitative","title":null,"scale":{"domain":[-1.461,166.34],"nice":false,"zero":false,"padding":0},"axis":{"orient":"bottom","offset":-14,"zindex":1,"values":[8.57,21.43,34.62,47.55,60.53,73.65,86.55,99.59,112.6,125.5,138.55,151.65],"labelExpr":"['Apr','Jul','Oct','22','Apr','Jul','Oct','23','Apr','Jul','Oct','24'][round((datum.value-8.57)/13.007)]","labelAlign":"left","labelColor":"#9a9a9a","labelFontSize":10.5,"labelPadding":1,"labelOverlap":false,"labelBound":false,"labelFlush":false,"ticks":false,"domain":false,"grid":true,"gridColor":"#555555","gridDash":[1,4]}}},
"layer":[
{"data":{"name":"bars"},"mark":{"type":"line","color":"#959595","strokeWidth":1.1},"encoding":{"x":{"field":"w"},"y":{"field":"a","type":"quantitative","title":null,"scale":{"domain":[-104,2577],"nice":false,"zero":false,"padding":0},"axis":{"orient":"right","offset":-52,"values":[500,1000,1500,2000],"title":null,"labels":false,"zindex":1,"tickSize":3,"tickColor":"#555555","domainColor":"#444444","gridColor":"#555555","grid":true,"gridDash":[1,4]}},"order":{"field":"w"}}},
{"data":{"name":"atravg"},"mark":{"type":"line","color":"#c9a227","strokeWidth":2.5},"encoding":{"x":{"field":"w"},"y":{"field":"a","type":"quantitative"},"order":{"field":"w"}}},
{"data":{"values":[{}]},"mark":{"type":"rect","color":"#0c0c0c"},"encoding":{"x":{"datum":158.96},"x2":{"datum":166.34},"y":{"datum":-104,"type":"quantitative"},"y2":{"datum":2577}}},
{"data":{"values":[{}]},"mark":{"type":"rect","color":"#10202c"},"encoding":{"x":{"datum":-1.461},"x2":{"datum":-0.9},"y":{"datum":-104,"type":"quantitative"},"y2":{"datum":2577}}},
{"data":{"values":[{}]},"mark":{"type":"rect","color":"#0c0c0c"},"encoding":{"x":{"datum":-0.9},"x2":{"datum":158.96},"y":{"datum":2149,"type":"quantitative"},"y2":{"datum":2577}}},
{"data":{"values":[{}]},"mark":{"type":"rect","color":"#0c0c0c"},"encoding":{"x":{"datum":-0.9},"x2":{"datum":158.96},"y":{"datum":-104,"type":"quantitative"},"y2":{"datum":212}}},
{"data":{"name":"div3"},"mark":{"type":"rule","color":"#3c3c3c"},"encoding":{"x":{"field":"w"},"y":{"datum":2149,"type":"quantitative"},"y2":{"datum":2560}}},
{"data":{"name":"head3"},"mark":{"type":"text","align":"left","baseline":"middle","fontSize":10.5},"encoding":{"x":{"field":"w"},"y":{"datum":2363,"type":"quantitative"},"text":{"field":"t"},"color":{"field":"k","type":"nominal","legend":null,"scale":{"domain":["lab","gld"],"range":["#9a9a9a","#c9a840"]}}}},
{"data":{"name":"atrticks"},"mark":{"type":"text","color":"#9a9a9a","fontSize":10.5,"align":"left","baseline":"middle"},"encoding":{"x":{"datum":159.5},"y":{"field":"a","type":"quantitative"},"text":{"field":"t"}}},
{"data":{"values":[{"a":444}]},"mark":{"type":"bar","height":13,"cornerRadius":3,"color":"#b8b8b8"},"encoding":{"x":{"datum":159.4},"x2":{"datum":164},"y":{"field":"a","type":"quantitative"}}},
{"data":{"values":[{"a":444,"t":"419.6"}]},"mark":{"type":"text","color":"#555555","fontSize":10.5,"align":"left","baseline":"middle"},"encoding":{"x":{"datum":159.8},"y":{"field":"a","type":"quantitative"},"text":{"field":"t"}}}
]}
],
"resolve":{"scale":{"x":"independent","y":"independent"}}}
